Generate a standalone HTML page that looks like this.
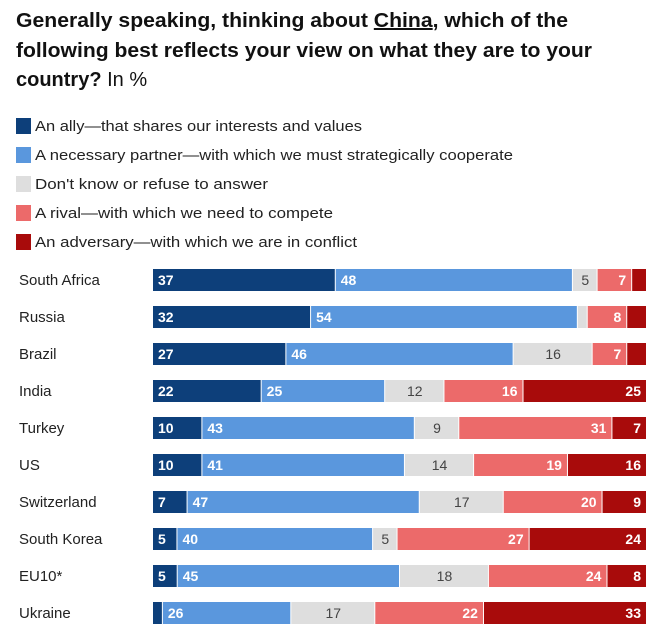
<!DOCTYPE html>
<html><head><meta charset="utf-8"><style>
html,body{margin:0;padding:0;background:#fff;width:672px;height:627px;overflow:hidden}
svg{display:block;font-family:"Liberation Sans",sans-serif}
</style></head><body>
<svg id="chart" width="672" height="627" viewBox="0 0 672 627">
<g font-weight="bold" font-size="20" fill="#111">
<text x="16" y="27" textLength="552" lengthAdjust="spacingAndGlyphs">Generally speaking, thinking about <tspan text-decoration="underline">China</tspan>, which of the</text>
<text x="16" y="57" textLength="576" lengthAdjust="spacingAndGlyphs">following best reflects your view on what they are to your</text>
<text x="16" y="86">country? <tspan font-weight="normal">In %</tspan></text>
</g>
<g id="legend"></g>
<g id="bars"></g>
</svg>
<script>
const categories = ["South Africa","Russia","Brazil","India","Turkey","US","Switzerland","South Korea","EU10*","Ukraine"];
const ally = [37,32,27,22,10,10,7,5,5,2];
const partner = [48,54,46,25,43,41,47,40,45,26];
const dontKnow = [5,2,16,12,9,14,17,5,18,17];
const rival = [7,8,7,16,31,19,20,27,24,22];
const adversary = [3,4,4,25,7,16,9,24,8,33];
const seriesNames = ["An ally\u2014that shares our interests and values","A necessary partner\u2014with which we must strategically cooperate","Don't know or refuse to answer","A rival\u2014with which we need to compete","An adversary\u2014with which we are in conflict"];
const seriesKeys = ["ally","partner","dont-know","rival","adversary"];
const colors = ["#0d3f7a","#5a97dd","#dedede","#ec6a6a","#a80b0b"];
const NS = "http://www.w3.org/2000/svg";
const series = [ally, partner, dontKnow, rival, adversary];
const x0 = 153, x1 = 647, rowTop = 269, rowStep = 37, barH = 22;
function xScale(v, total){ return (x1 - x0) * v / total; }
function yScale(i){ return rowTop + i * rowStep; }
const legend = document.getElementById('legend');
const legendW = [327,478,233,298,322];
seriesNames.forEach((n,k)=>{
  const y = 118 + k*29;
  const r = document.createElementNS(NS,'rect');
  r.setAttribute('x',16); r.setAttribute('y',y); r.setAttribute('width',15); r.setAttribute('height',16);
  r.setAttribute('fill',colors[k]);
  
  
  legend.appendChild(r);
  const t = document.createElementNS(NS,'text');
  t.setAttribute('x',35); t.setAttribute('y',y+13); t.setAttribute('font-size','15'); t.setAttribute('fill','#222');
  t.setAttribute('textLength',legendW[k]); t.setAttribute('lengthAdjust','spacingAndGlyphs');
  t.textContent = n;
  
  
  legend.appendChild(t);
});
const bars = document.getElementById('bars');
categories.forEach((c,i)=>{
  const y = yScale(i);
  const lab = document.createElementNS(NS,'text');
  lab.setAttribute('x',19); lab.setAttribute('y',y+16); lab.setAttribute('font-size','15'); lab.setAttribute('fill','#222');
  lab.textContent = c;
  
  
  bars.appendChild(lab);
  let total = 0; series.forEach(s=> total += s[i]);
  let x = x0;
  series.forEach((s,k)=>{
    const w = xScale(s[i], total);
    const r = document.createElementNS(NS,'rect');
    r.setAttribute('x',x); r.setAttribute('y',y); r.setAttribute('width',Math.max(0,w-1)); r.setAttribute('height',barH);
    r.setAttribute('fill',colors[k]);
    
    
    bars.appendChild(r);
    if (s[i] >= 5) {
      const t = document.createElementNS(NS,'text');
      let tx, anchor;
      if (k < 2) { tx = x + 5; anchor = 'start'; }
      else if (k === 2) { tx = x + w/2; anchor = 'middle'; }
      else { tx = x + w - 6; anchor = 'end'; }
      t.setAttribute('x',tx); t.setAttribute('y',y+16); t.setAttribute('text-anchor',anchor);
      t.setAttribute('font-size','14'); t.setAttribute('font-weight', k===2 ? 'normal' : 'bold');
      t.setAttribute('fill', k===2 ? '#444' : '#fff');
      t.textContent = s[i];
      
      
      bars.appendChild(t);
    }
    x += w;
  });
});
</script>
</body></html>
